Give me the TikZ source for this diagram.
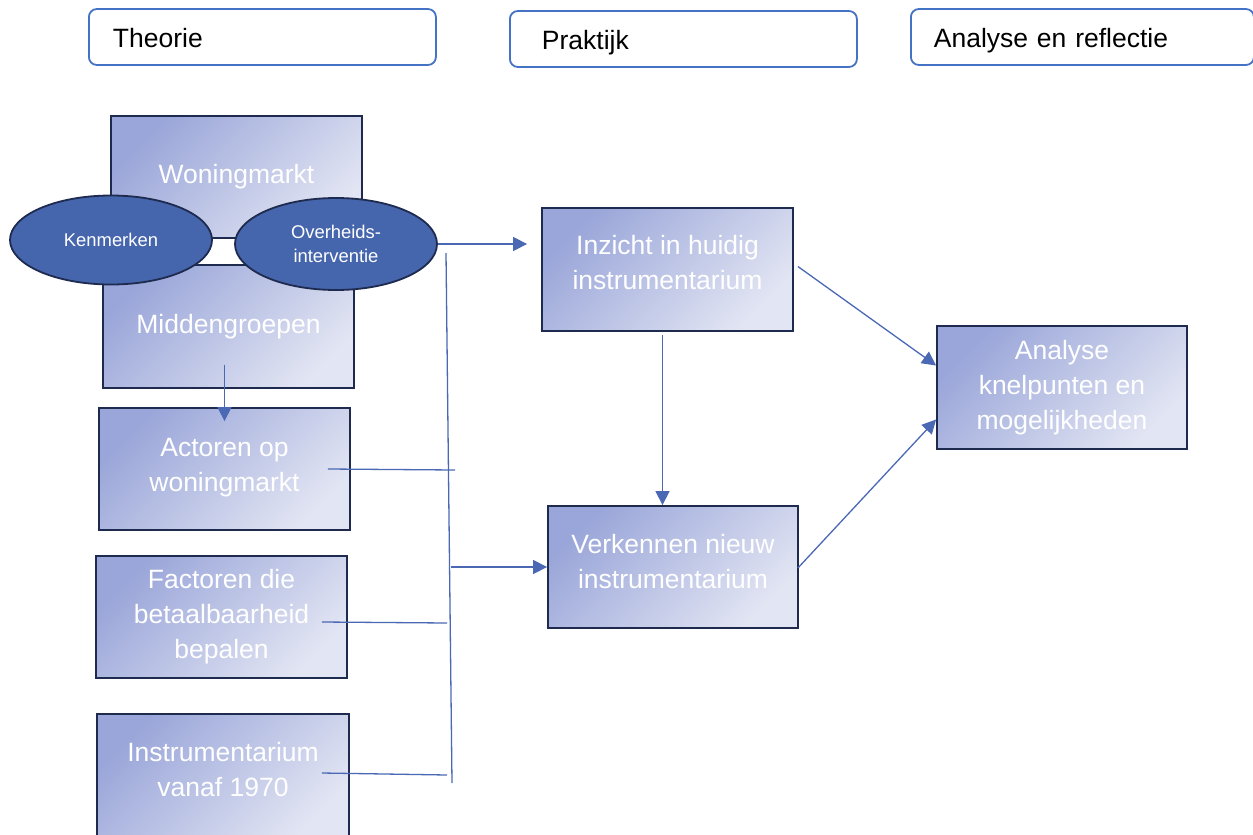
\documentclass[tikz,border=0pt]{standalone}
\usepackage{fontspec}
\setmainfont{Liberation Sans}
\usetikzlibrary{arrows.meta,shapes.geometric}
\definecolor{hdrblue}{HTML}{4472C4}
\definecolor{lineblue}{HTML}{4A68B3}
\definecolor{boxline}{HTML}{1E2B4F}
\definecolor{shadeA}{HTML}{9AA6D9}
\definecolor{shadeB}{HTML}{E2E5F3}
\definecolor{ellfill}{HTML}{4565AD}

\begin{document}
\begin{tikzpicture}[x=1pt,y=-1pt,>={Triangle[length=14pt,width=14pt]},
  hdr/.style={draw=hdrblue,line width=1.8pt,rounded corners=8pt,minimum height=56pt,
    align=left,anchor=west,text height=25pt,text depth=4pt,font=\fontsize{26.5}{30}\selectfont},
  blok/.style={draw=boxline,line width=1.8pt,top color=shadeA,bottom color=shadeB,
    shading angle=45,text=white,align=center,minimum width=251pt,minimum height=123pt,
    font=\fontsize{26.5}{35}\selectfont},
  ell/.style={ellipse,draw=boxline,line width=1.8pt,fill=ellfill,text=white,align=center,
    inner sep=0pt,minimum width=202pt,font=\fontsize{18.4}{24}\selectfont},
  con/.style={draw=lineblue,line width=1.3pt}]
  \useasboundingbox (0,0) rectangle (1253,835);

  \node[hdr,inner xsep=24pt,text width=299pt] (theorie) at (88,37) {Theorie};
  \node[hdr,inner xsep=32pt,text width=283pt] (praktijk) at (509,39) {Praktijk};
  \node[hdr,inner xsep=23pt,text width=297pt] (reflectie) at (910,37) {Analyse en reflectie};

  \node[blok,minimum height=122pt] (woning) at (236.5,177) {Woningmarkt};
  \node[blok] (midden) at (228.5,326.5) {Middengroepen};
  \node[ell,minimum height=89pt] (kenmerk) at (111,240) {Kenmerken};
  \node[ell,minimum height=92pt] (overheid) at (336,244) {Overheids-\\interventie};

  \node[blok,minimum height=122pt] (actoren) at (224.5,469) {Actoren op\\woningmarkt\\[-27pt]};
  \node[blok,minimum height=122pt] (factoren) at (221.5,617) {Factoren die\\betaalbaarheid\\bepalen};
  \node[blok,minimum width=252pt,minimum height=126pt] (instr) at (223,777) {Instrumentarium\\vanaf 1970\\[-19pt]};

  \node[blok] (inzicht) at (667.5,269.5) {Inzicht in huidig\\instrumentarium\\[-21pt]};
  \node[blok,minimum width=250pt,minimum height=122pt] (verken) at (673,567) {Verkennen nieuw\\instrumentarium\\[-23pt]};
  \node[blok,minimum width=250pt] (analyse) at (1062,387.5) {Analyse\\knelpunten en\\mogelijkheden};

  \coordinate (vtop) at (446,253);
  \coordinate (vbot) at (452,783);
  \coordinate (j1) at (455,470);
  \coordinate (j2) at (447,623);
  \coordinate (j3) at (447,775);
  \coordinate (j4) at (451,567);

  \draw[con] (vtop) -- (vbot);
  \draw[con] ([xshift=-23pt]actoren.east) -- (j1);
  \draw[con] ([shift={(-26,5)}]factoren.east) -- (j2);
  \draw[con] ([shift={(-28,-4)}]instr.east) -- (j3);
  \draw[con,->] (j4) -- (verken.west);
  \draw[con,->,shorten >=14pt] (overheid.east) -- (overheid.east -| inzicht.west);
  \draw[con,->] ([shift={(-4,38)}]midden.center) -- ([shift={(0,14)}]actoren.north);
  \draw[con,->] ([shift={(-5,3)}]inzicht.south) -- ([xshift=-5pt]verken.north -| inzicht.south);
  \draw[con,->] ([shift={(4,-3)}]inzicht.east) -- ([shift={(0,-22)}]analyse.west);
  \draw[con,->] ([shift={(-1,1)}]verken.east) -- ([shift={(0,32)}]analyse.west);
\end{tikzpicture}
\end{document}
